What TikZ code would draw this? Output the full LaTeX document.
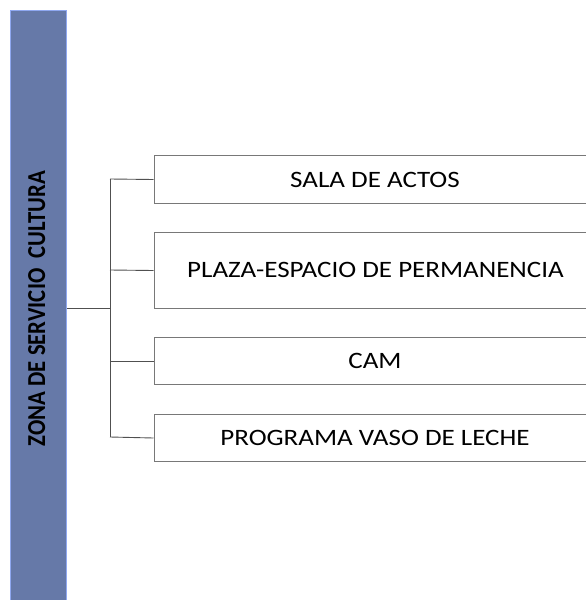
\documentclass[tikz,border=0pt]{standalone}
\usepackage{fontspec}
\setmainfont{Carlito}
\definecolor{barfill}{RGB}{102,121,168}
\definecolor{barline}{RGB}{143,168,240}
\definecolor{boxline}{RGB}{120,120,120}
\definecolor{conline}{RGB}{80,80,80}
\newcommand{\hstr}[1]{\scalebox{1.15}[1]{#1}}
\begin{document}
\begin{tikzpicture}[x=1pt,y=-1pt,
  itembox/.style={draw=boxline, line width=1pt, minimum width=450pt, anchor=north west, inner sep=0pt},
  itemtext/.style={font=\fontsize{23.5}{27}\selectfont, inner sep=0pt},
  conn/.style={draw=conline, line width=0.9pt}]
\clip (0,0) rectangle (586,600);
\useasboundingbox (0,0) rectangle (586,600);
\node[draw=barline, fill=barfill, line width=1pt, minimum width=56pt, minimum height=600pt, anchor=north west, inner sep=0pt] (bar) at (10,10) {};
\node[rotate=90, inner sep=0pt, font=\bfseries\fontsize{22.7}{27}\selectfont] (title) at (36.8,308.5) {\scalebox{1}[1.14]{ZONA DE SERVICIO\ \ CULTURA}};
\node[itembox, minimum height=48pt] (b1) at (153.5,155) {};
\node[itembox, minimum height=76pt] (b2) at (153.5,232) {};
\node[itembox, minimum height=47pt] (b3) at (153.5,337) {};
\node[itembox, minimum height=47pt] (b4) at (153.5,414) {};
\node[itemtext] (t1) at (375,179.5) {\hstr{SALA DE ACTOS}};
\node[itemtext] (t2) at (375.5,270) {\hstr{PLAZA-ESPACIO DE PERMANENCIA}};
\node[itemtext] (t3) at (375,361) {\hstr{CAM}};
\node[itemtext] (t4) at (375,437.5) {\hstr{PROGRAMA VASO DE LECHE}};
\coordinate (hub) at (110,308);
\coordinate (top) at (110,179);
\coordinate (bot) at (110,437);
\draw[conn] (bar.east |- hub) -- (hub);
\draw[conn] (top) -- (bot);
\draw[conn] (top) -- (b1.west);
\draw[conn] (110,270) -- (b2.west);
\draw[conn] (110,361) -- (b3.west);
\draw[conn] (bot) -- (b4.west);
\end{tikzpicture}
\end{document}
